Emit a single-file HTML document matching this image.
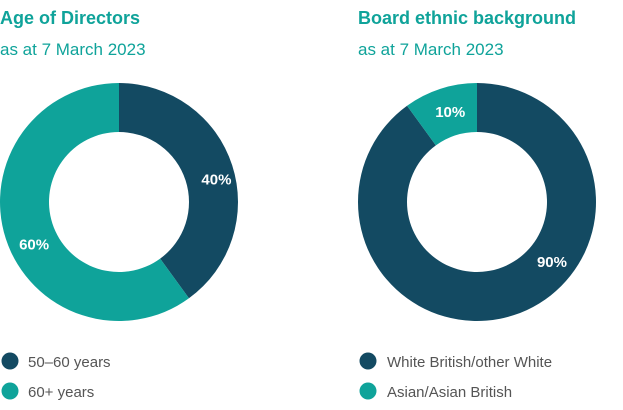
<!DOCTYPE html>
<html><head><meta charset="utf-8"><style>
body{margin:0;background:#fff;width:623px;height:405px;overflow:hidden;font-family:"Liberation Sans",Arial,sans-serif}
</style></head><body>
<svg width="623" height="405">
<text x="0" y="24" font-size="18" font-weight="bold" fill="#0fa39a">Age of Directors</text>
<text x="0" y="55" font-size="17" fill="#0fa39a">as at 7 March 2023</text>
<text x="358" y="24" font-size="18" font-weight="bold" fill="#0fa39a">Board ethnic background</text>
<text x="358" y="55" font-size="17" fill="#0fa39a">as at 7 March 2023</text>
<g id="c1"></g><g id="c2"></g>
<g>
<circle cx="10" cy="361" r="8.5" fill="#134a62"/>
<text x="28" y="367" font-size="15" fill="#555">50–60 years</text>
<circle cx="10" cy="391" r="8.5" fill="#0fa39a"/>
<text x="28" y="397" font-size="15" fill="#555">60+ years</text>
</g>
<g>
<circle cx="368" cy="361" r="8.5" fill="#134a62"/>
<text x="387" y="367" font-size="15" fill="#555">White British/other White</text>
<circle cx="368" cy="391" r="8.5" fill="#0fa39a"/>
<text x="387" y="397" font-size="15" fill="#555">Asian/Asian British</text>
</g>
</svg>
<script>
const ageCategories=["50–60 years","60+ years"];
const ageValues=[40,60];
const ethnicCategories=["White British/other White","Asian/Asian British"];
const ethnicValues=[90,10];
const colors=["#134a62","#0fa39a"];
const NS="http://www.w3.org/2000/svg";
function donut(gid,cx,cy,vals,names,prefix,labelOffsets,labelRadii){
  const g=document.getElementById(gid);
  const R=119,r=70,tot=vals.reduce((a,b)=>a+b,0);
  let a0=0;
  vals.forEach((v,i)=>{
    const a1=a0+v/tot*2*Math.PI;
    const p=(a,rad)=>[cx+rad*Math.sin(a),cy-rad*Math.cos(a)];
    const large=(a1-a0)>Math.PI?1:0;
    const [x0,y0]=p(a0,R),[x1,y1]=p(a1,R),[x2,y2]=p(a1,r),[x3,y3]=p(a0,r);
    const path=document.createElementNS(NS,"path");
    path.setAttribute("d",`M${x0},${y0}A${R},${R} 0 ${large} 1 ${x1},${y1}L${x2},${y2}A${r},${r} 0 ${large} 0 ${x3},${y3}Z`);
    path.setAttribute("fill",colors[i]);
    
    
    g.appendChild(path);
    const am=a0+(a1-a0)*labelOffsets[i];
    const [lx,ly]=p(am,labelRadii[i]);
    const t=document.createElementNS(NS,"text");
    t.setAttribute("x",lx);t.setAttribute("y",ly+5);
    t.setAttribute("text-anchor","middle");t.setAttribute("font-size","15");
    t.setAttribute("font-weight","bold");t.setAttribute("fill","#fff");
    t.textContent=v+"%";
    
    
    g.appendChild(t);
    a0=a1;
  });
}
donut("c1",119,202,ageValues,ageCategories,"age",[0.535,0.46],[100,95]);
donut("c2",477,202,ethnicValues,ethnicCategories,"ethnic",[0.397,0.54],[96,94]);
</script>
</body></html>
